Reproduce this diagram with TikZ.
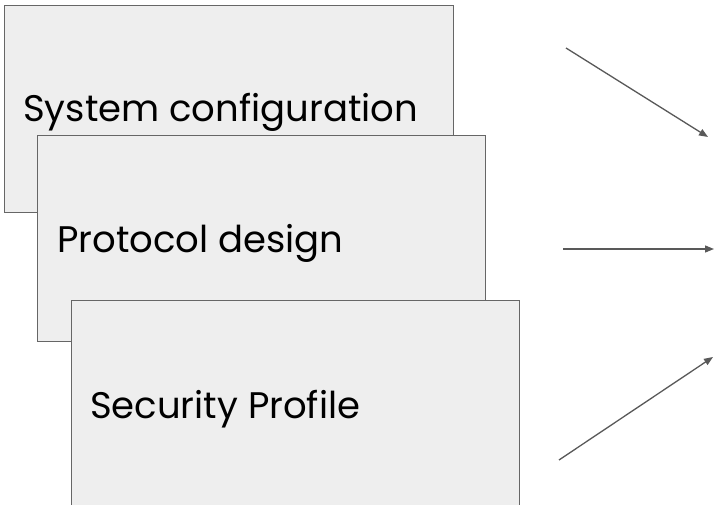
\documentclass[tikz,border=0pt]{standalone}
\usepackage{fontspec}
\setmainfont{Poppins}
\usetikzlibrary{arrows.meta}
\definecolor{boxfill}{HTML}{EEEEEE}
\definecolor{boxline}{HTML}{666666}
\definecolor{arrowc}{HTML}{595959}
\tikzset{
  card/.style={draw=boxline, fill=boxfill, line width=1.3pt, anchor=north west, inner sep=0pt},
  lbl/.style={anchor=base west, inner sep=0pt, font=\fontsize{37}{44}\selectfont, text=black},
  conn/.style={draw=arrowc, line width=1.3pt, -{Triangle[length=9pt,width=7pt]}}
}
\begin{document}
\begin{tikzpicture}[x=1pt,y=-1pt]
\useasboundingbox[fill=white] (0,0) rectangle (715,505);
\node[card, minimum width=449pt, minimum height=207pt] (b1) at (4,5) {};
\node[lbl] (t1) at (23,122) {System configuration};
\node[card, minimum width=448pt, minimum height=206pt] (b2) at (37,135) {};
\node[lbl] (t2) at (57,253) {Protocol design};
\node[card, minimum width=448pt, minimum height=230pt] (b3) at (71,300) {};
\node[lbl] (t3) at (90,418) {Security Profile};
\coordinate (s1) at (566,48);
\coordinate (e1) at (708,137);
\coordinate (s2) at (563,249);
\coordinate (e2) at (714,249);
\coordinate (s3) at (559,460);
\coordinate (e3) at (713,357);
\draw[conn] (s1) -- (e1);
\draw[conn] (s2) -- (e2);
\draw[conn] (s3) -- (e3);
\end{tikzpicture}
\end{document}
